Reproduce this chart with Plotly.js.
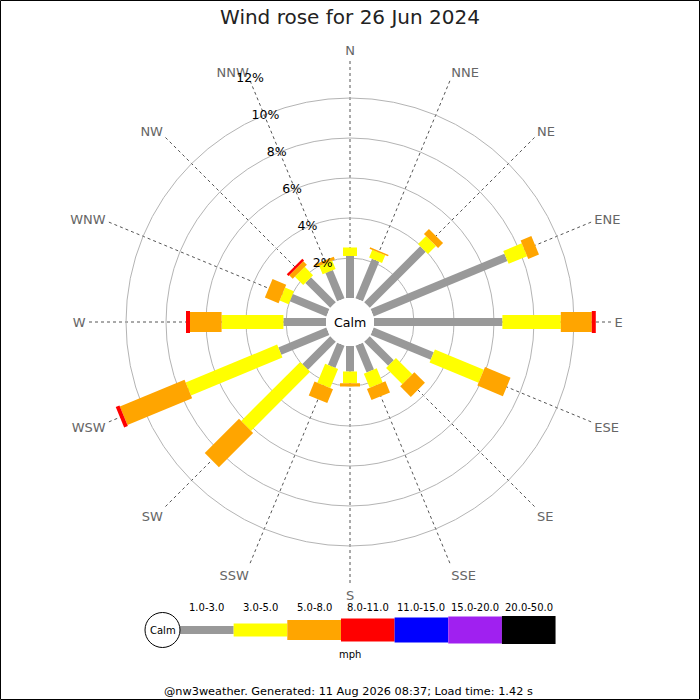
<!DOCTYPE html>
<html>
<head>
<meta charset="utf-8">
<script src="https://cdn.plot.ly/plotly-3.0.1.min.js"></script>
<style>html,body{margin:0;padding:0;background:#fff;}#chart{width:700px;height:700px;}</style>
</head>
<body>
<div id="chart"></div>
<script>
// ---- data ----
const directions = ['N','NNE','NE','ENE','E','ESE','SE','SSE','S','SSW','SW','WSW','W','WNW','NW','NNW'];
const band1 = [2.10, 2.14, 3.96, 7.24, 6.42, 3.25, 1.70, 1.45, 1.28, 1.20, 1.97, 2.60, 2.13, 1.98, 1.76, 1.53]; // 1.0-3.0
const band2 = [0.43, 0.42, 0.57, 1.00, 2.92, 2.65, 1.15, 0.77, 0.58, 1.03, 4.18, 4.95, 3.09, 0.48, 0.59, 0.45]; // 3.0-5.0
const band3 = [0.00, 0.08, 0.35, 0.58, 1.55, 1.38, 0.75, 0.60, 0.16, 0.75, 2.42, 3.50, 1.58, 0.74, 0.25, 0.15]; // 5.0-8.0
const band4 = [0, 0, 0, 0, 0.20, 0, 0, 0, 0, 0, 0, 0.20, 0.20, 0, 0.12, 0];                                 // 8.0-11.0
const band5 = [0, 0, 0, 0, 0, 0, 0, 0, 0, 0, 0, 0, 0, 0, 0, 0];                                              // 11.0-15.0
const band6 = [0, 0, 0, 0, 0, 0, 0, 0, 0, 0, 0, 0, 0, 0, 0, 0];                                              // 15.0-20.0
const band7 = [0, 0, 0, 0, 0, 0, 0, 0, 0, 0, 0, 0, 0, 0, 0, 0];                                              // 20.0-50.0
const bandLabels = ['1.0-3.0','3.0-5.0','5.0-8.0','8.0-11.0','11.0-15.0','15.0-20.0','20.0-50.0'];
const radialTicks = [2, 4, 6, 8, 10, 12];

// ---- style ----
const bands = [band1, band2, band3, band4, band5, band6, band7];
const bandColors = ['#999999','#ffff00','#ffa500','#ff0000','#0000ff','#a020f0','#000000'];
const bandWidths = [8, 14, 20, 22, 24, 26, 28];
const legendHeights = [8, 13, 20, 23, 25, 27, 28];
const FONT = 'DejaVu Sans, Verdana, sans-serif';
const W = 700, H = 700;
const px = x => x / W;
const py = y => 1 - y / H;

// ---- traces: stacked rectangular bars drawn as thick polar line segments ----
const cum = directions.map(() => 0);
const traces = [];
bands.forEach((vals, b) => {
  const r = [], th = [];
  vals.forEach((v, i) => {
    const base = cum[i];
    if (v > 0) {
      r.push(base, base + v, null);
      th.push(directions[i], directions[i], null);
    }
    cum[i] = base + v;
  });
  traces.push({
    type: 'scatterpolar', mode: 'lines', r: r, theta: th,
    connectgaps: false, name: bandLabels[b], hoverinfo: 'skip',
    line: {color: bandColors[b], width: bandWidths[b]}
  });
});
// empty trace that only carries the radial percentage labels (overlay subplot)
traces.push({type: 'scatterpolar', mode: 'markers', r: [], theta: [], subplot: 'polar2', hoverinfo: 'skip'});

// ---- legend (drawn bar) ----
const shapes = [];
const annotations = [];
const note = (x, y, text, size) => annotations.push({xref:'paper', yref:'paper', x:px(x), y:py(y), text:text,
  showarrow:false, xanchor:'center', yanchor:'middle', font:{family:FONT, size:size, color:'#000'}});
const legX0 = 180, legStep = 53.65, legY = 630;
bandLabels.forEach((lab, b) => {
  const x0 = legX0 + b * legStep, x1 = x0 + legStep;
  const h = legendHeights[b];
  shapes.push({type:'rect', xref:'paper', yref:'paper', x0:px(x0), x1:px(x1),
    y0:py(legY + h/2), y1:py(legY - h/2), fillcolor:bandColors[b], line:{width:0}, layer:'above'});
  note((x0 + x1) / 2, 607, lab, 10);
});
shapes.push({type:'circle', xref:'paper', yref:'paper', x0:px(162.5-17.5), x1:px(162.5+17.5),
  y0:py(630+17.5), y1:py(630-17.5), fillcolor:'#fff', line:{color:'#000', width:1}, layer:'above'});
note(162.5, 630, 'Calm', 10);
note(350.5, 654, 'mph', 10);
note(348, 691, '@nw3weather. Generated: 11 Aug 2026 08:37; Load time: 1.42 s', 11.3);
note(350, 322, 'Calm', 12.6);
// border
shapes.push({type:'rect', xref:'paper', yref:'paper', x0:0.0007, x1:0.9993, y0:0.0007, y1:0.9993,
  line:{color:'#000', width:1}, fillcolor:'rgba(0,0,0,0)', layer:'above'});

const R = 264, cx = 350, cy = 322, labelShift = 19;
const angular = {
  type: 'category', categoryarray: directions, direction: 'clockwise', rotation: 90,
  showline: false, ticks: '', gridcolor: '#555', gridwidth: 1, griddash: 'dot',
  tickfont: {family: FONT, size: 13, color: '#666'}
};
const layout = {
  width: W, height: H,
  margin: {l:0, r:0, t:0, b:0},
  paper_bgcolor: '#fff',
  showlegend: false,
  font: {family: FONT},
  title: {text: 'Wind rose for 26 Jun 2024', font: {family: FONT, size: 20, color: '#222'},
    x: 0.5, xanchor: 'center', y: py(17), yref: 'container', yanchor: 'middle'},
  polar: {
    domain: {x: [px(cx - R), px(cx + R)], y: [py(cy + R), py(cy - R)]},
    hole: 24 / 264,
    bgcolor: '#fff',
    radialaxis: {
      range: [0, 12], tickvals: radialTicks, showticklabels: false, showline: false, ticks: '',
      gridcolor: '#b4b4b4', gridwidth: 1
    },
    angularaxis: angular
  },
  polar2: {
    domain: {x: [px(cx - labelShift - R), px(cx - labelShift + R)], y: [py(cy + R), py(cy - R)]},
    hole: 24 / 264,
    bgcolor: 'rgba(0,0,0,0)',
    radialaxis: {
      range: [0, 12], tickvals: radialTicks, ticktext: radialTicks.map(v => v + '%'),
      angle: 112.5, tickangle: 112.5, showline: false, showgrid: false, ticks: '',
      tickfont: {family: FONT, size: 12.5, color: '#000'}
    },
    angularaxis: Object.assign({}, angular, {visible: false, showgrid: false, showticklabels: false})
  },
  shapes: shapes,
  annotations: annotations
};

Plotly.newPlot('chart', traces, layout, {displayModeBar: false, staticPlot: true});
</script>
</body>
</html>
